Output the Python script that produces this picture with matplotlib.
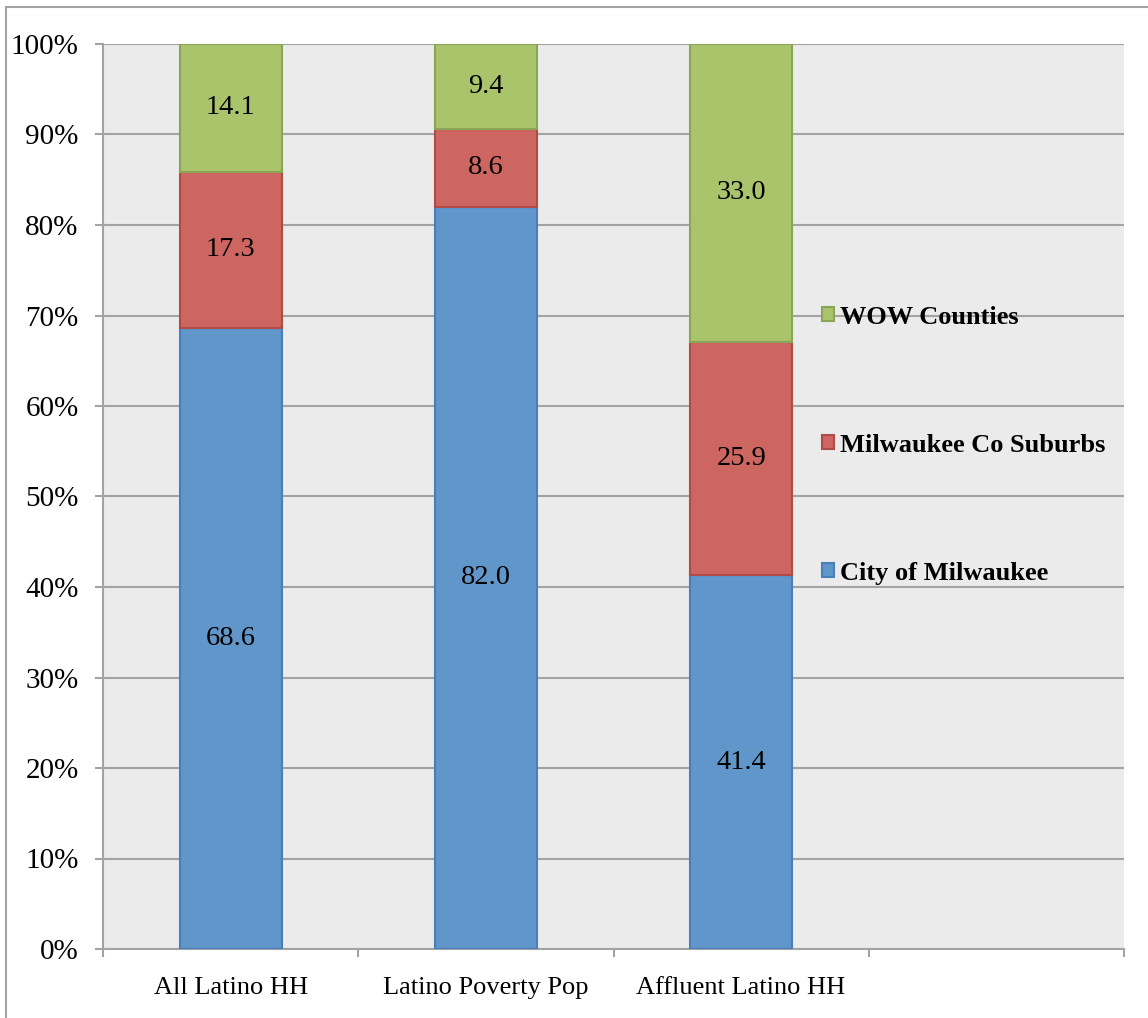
import numpy as np
import matplotlib
matplotlib.use("Agg")
import matplotlib.pyplot as plt
from matplotlib.patches import Patch, Rectangle

# data (percent of each group)
categories = ["All Latino HH", "Latino Poverty Pop", "Affluent Latino HH"]
series = ["City of Milwaukee", "Milwaukee Co Suburbs", "WOW Counties"]
city    = [68.6, 82.0, 41.4]
suburbs = [17.3, 8.6, 25.9]
wow     = [14.1, 9.4, 33.0]
yticks  = [0, 10, 20, 30, 40, 50, 60, 70, 80, 90, 100]

colors = ["#6096C9", "#CD6561", "#AAC46C"]
edges  = ["#4A7EBB", "#B04C48", "#8AA556"]
GRID = "#A3A3A3"
SERIF = ["Liberation Serif", "DejaVu Serif"]

W, H = 1148, 1018
fig = plt.figure(figsize=(W/100, H/100), dpi=100)
ax = fig.add_axes([103/W, (H-949)/H, (1124-103)/W, (949-44)/H])
ax.set_facecolor("#EBEBEB")

vals = np.array([city, suburbs, wow], dtype=float)
shares = vals / vals.sum(axis=0) * 100
x = np.arange(len(categories))
bottom = np.zeros(len(categories))
for k, name in enumerate(series):
    ax.bar(x, shares[k], 0.40, bottom=bottom, color=colors[k],
           edgecolor=edges[k], linewidth=1.5, label=name, zorder=3)
    for i in range(len(categories)):
        ax.text(x[i], bottom[i] + shares[k][i] / 2, f"{vals[k][i]:.1f}",
                ha="center", va="center", fontsize=20.5, family=SERIF, zorder=4)
    bottom += shares[k]

# axes / grid
ax.set_xlim(-0.5, 3.5)
ax.set_ylim(0, 100)
ax.set_yticks(yticks)
ax.set_yticklabels([f"{t}%" for t in yticks], family=SERIF, fontsize=21)
ax.yaxis.grid(True, color=GRID, linewidth=1.5, zorder=0)
ax.tick_params(axis="y", length=6, width=1.5, color=GRID, pad=11.5)
ax.set_xticks(np.arange(-0.5, 4.0, 1.0))
ax.set_xticklabels([])
ax.tick_params(axis="x", length=6, width=1.5, color=GRID)
ax.set_xticks(x, minor=True)
ax.set_xticklabels(categories, minor=True, family=SERIF, fontsize=19)
ax.tick_params(axis="x", which="minor", length=0, pad=20)
for s in ["top", "right"]:
    ax.spines[s].set_visible(False)
for s in ["left", "bottom"]:
    ax.spines[s].set_color(GRID)
    ax.spines[s].set_linewidth(1.5)

handles = [Patch(facecolor=colors[k], edgecolor=edges[k], linewidth=1.5)
           for k in range(3)][::-1]
ax.legend(handles, series[::-1], loc="center left",
          bbox_to_anchor=(0.704, 0.5566), frameon=False, borderpad=0,
          borderaxespad=0, handlelength=0.45, handleheight=0.45,
          handletextpad=0.25, labelspacing=3.98,
          prop={"family": SERIF, "weight": "bold", "size": 19})

# outer chart border (clipped at right/bottom like the original)
fig.patches.append(Rectangle((6/W, -0.1), 1.2, (H-7)/H + 0.1,
                             transform=fig.transFigure, fill=False,
                             edgecolor=GRID, linewidth=1.5))

fig.savefig("out.png", dpi=100)
